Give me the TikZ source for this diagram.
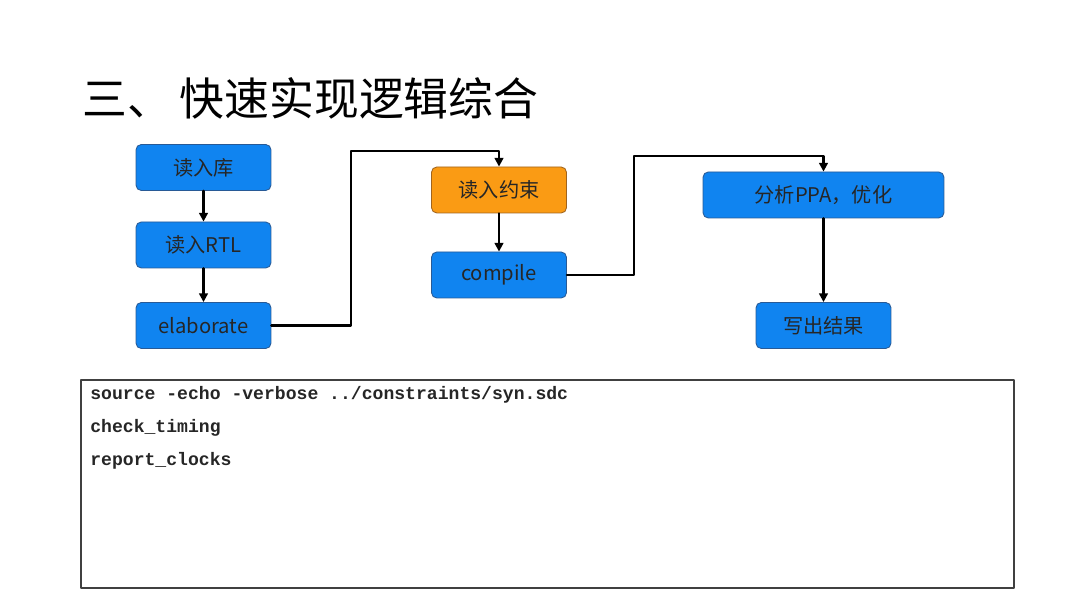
\documentclass[tikz,border=0pt]{standalone}
\usepackage{fontspec}
\setmainfont{Noto Sans CJK SC}
\newfontfamily\codefont{Liberation Mono}
\usetikzlibrary{arrows.meta,positioning}
\definecolor{boxblue}{RGB}{16,132,240}
\definecolor{boxedge}{RGB}{40,90,150}
\definecolor{boxorange}{RGB}{250,155,20}
\definecolor{edgeorange}{RGB}{160,100,30}
\tikzset{
  stepbox/.style={draw=boxedge,fill=boxblue,rounded corners=3pt,line width=0.5pt,
    minimum height=0.92cm,minimum width=2.7cm,inner sep=0pt,
    font=\fontsize{11.5}{13}\selectfont,text=black!85},
  orangebox/.style={stepbox,draw=edgeorange,fill=boxorange},
  flow/.style={->,line width=1.35pt,black},
  codeline/.style={anchor=west,font=\codefont\bfseries\fontsize{10.3}{12}\selectfont,inner sep=0pt,text=black!85}
}
\begin{document}
\begin{tikzpicture}[line cap=round,line join=round,>={Triangle[length=5pt,width=5pt]},x=0.02cm,y=-0.02cm]
	\useasboundingbox (0,0) rectangle (1080,607);
	% title
	\node[anchor=west,inner sep=0pt,font=\fontsize{25.5}{30}\selectfont] (title) at (82,98) {三、\hspace{0.16cm}快速实现逻辑综合};
	% left column
	\node[stepbox] (lib) at (203.5,167.5) {读入库};
	\node[stepbox] (rtl) at (203.5,245) {读入RTL};
	\node[stepbox] (elab) at (203.5,325.5) {elaborate};
	% middle column
	\node[orangebox] (cons) at (499,190) {读入约束};
	\node[stepbox] (comp) at (499,275) {compile};
	% right column
	\node[stepbox,minimum width=4.82cm] (ppa) at (823.5,195) {分析PPA，优化};
	\node[stepbox] (out) at (823.5,325.5) {写出结果};
	% connectors
	\coordinate (k1) at (351,151);
	\coordinate (k2) at (634,156);
	\draw[flow] (lib) -- (rtl);
	\draw[flow] (rtl) -- (elab);
	\draw[flow] (elab.east) -| (k1) -| (cons.north);
	\draw[flow] (cons) -- (comp);
	\draw[flow] (comp.east) -| (k2) -| (ppa.north);
	\draw[flow] (ppa) -- (out);
	% script box
	\draw[line width=0.7pt,black!75] (81,380) rectangle (1014,588);
	\node[codeline] (c1) at (90,395) {source -echo -verbose ../constraints/syn.sdc};
	\node[codeline] (c2) at (90,428) {check\_timing};
	\node[codeline] (c3) at (90,461) {report\_clocks};
\end{tikzpicture}
\end{document}
